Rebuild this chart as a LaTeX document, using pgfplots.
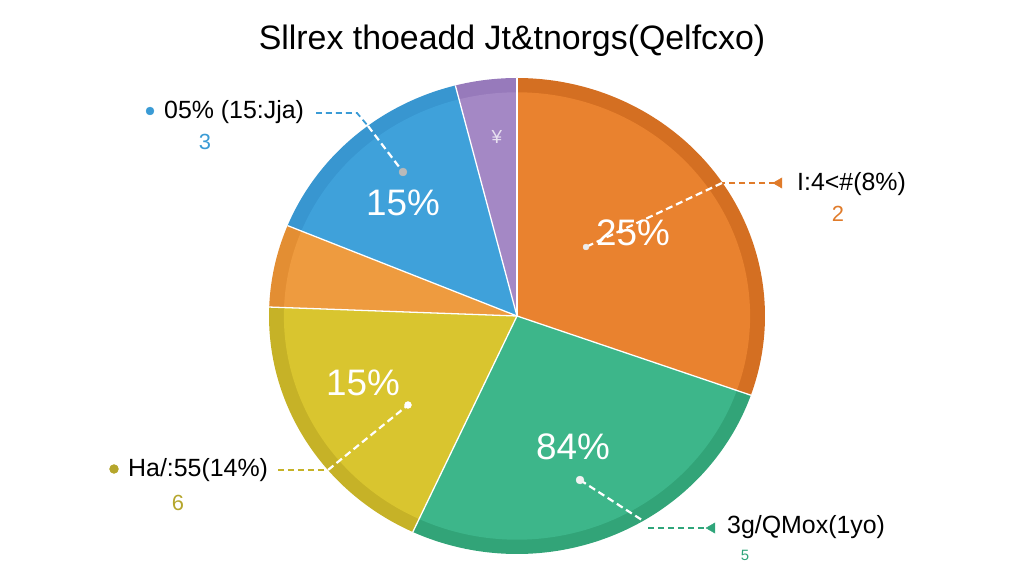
\documentclass[border=0pt]{standalone}
\usepackage{pgfplots}
\pgfplotsset{compat=1.18}
\usepackage{pgfplotstable}
\usepackage{fontspec}
\setmainfont{Liberation Sans}
\definecolor{cOr}{HTML}{E9822F}
\definecolor{cOrD}{HTML}{D46F22}
\definecolor{cGr}{HTML}{3DB68A}
\definecolor{cGrD}{HTML}{32A478}
\definecolor{cYe}{HTML}{D9C52F}
\definecolor{cYeD}{HTML}{C6B227}
\definecolor{cLo}{HTML}{EE9B3F}
\definecolor{cLoD}{HTML}{E38E33}
\definecolor{cBl}{HTML}{3FA1DA}
\definecolor{cBlD}{HTML}{3896D0}
\definecolor{cPu}{HTML}{A488C5}
\definecolor{cPuD}{HTML}{977ABB}
\definecolor{tBl}{HTML}{3A9BD5}
\definecolor{tOr}{HTML}{E07B2A}
\definecolor{tYe}{HTML}{B5A62C}
\definecolor{tGr}{HTML}{2FA57A}

% slice shares in percent, clockwise from 12 o'clock
\pgfplotstableread{
slice value
1 30.4
2 26.5
3 18.7
4 5.6
5 14.8
6 4.0
}\pietable

\def\cx{517}\def\cy{260}\def\rx{248}\def\ry{238}
\pgfplotstablegetelem{0}{value}\of\pietable\let\vA\pgfplotsretval
\pgfplotstablegetelem{1}{value}\of\pietable\let\vB\pgfplotsretval
\pgfplotstablegetelem{2}{value}\of\pietable\let\vC\pgfplotsretval
\pgfplotstablegetelem{3}{value}\of\pietable\let\vD\pgfplotsretval
\pgfplotstablegetelem{4}{value}\of\pietable\let\vE\pgfplotsretval
\pgfplotstablegetelem{5}{value}\of\pietable\let\vF\pgfplotsretval
\pgfmathsetmacro\aA{90}
\pgfmathsetmacro\aB{\aA-3.6*\vA}
\pgfmathsetmacro\aC{\aB-3.6*\vB}
\pgfmathsetmacro\aD{\aC-3.6*\vC}
\pgfmathsetmacro\aE{\aD-3.6*\vD}
\pgfmathsetmacro\aF{\aE-3.6*\vE}
\pgfmathsetmacro\aG{\aF-3.6*\vF}

\newcommand\pieslice[4]{%
  \addplot[fill=#1, draw=none, domain=#2:#3, samples=90, variable=\t]
    ({\cx+#4*\rx*cos(\t)},{\cy+#4*\ry*sin(\t)}) -- (axis cs:\cx,\cy) -- cycle;}
\newcommand\piesep[1]{%
  \draw[white, line width=1.3pt] (axis cs:\cx,\cy) -- (axis cs:{\cx+\rx*cos(#1)},{\cy+\ry*sin(#1)});}

\begin{document}
\begin{tikzpicture}
\begin{axis}[
  scale only axis, width=1024bp, height=576bp,
  xmin=0, xmax=1024, ymin=0, ymax=576,
  hide axis, clip=false]
% outer rim (darker) then inner body
\pieslice{cOrD}{\aB}{\aA}{1}
\pieslice{cGrD}{\aC}{\aB}{1}
\pieslice{cYeD}{\aD}{\aC}{1}
\pieslice{cLoD}{\aE}{\aD}{1}
\pieslice{cBlD}{\aF}{\aE}{1}
\pieslice{cPuD}{\aG}{\aF}{1}
\pieslice{cOr}{\aB}{\aA}{0.94}
\pieslice{cGr}{\aC}{\aB}{0.94}
\pieslice{cYe}{\aD}{\aC}{0.94}
\pieslice{cLo}{\aE}{\aD}{0.94}
\pieslice{cBl}{\aF}{\aE}{0.94}
\pieslice{cPu}{\aG}{\aF}{0.94}
\piesep{\aA}\piesep{\aB}\piesep{\aC}\piesep{\aD}\piesep{\aE}\piesep{\aF}

% leader lines
\addplot[tBl, line width=1.8pt, dash pattern=on 6pt off 4pt] coordinates {(316,463) (357,463) (368,450)};
\addplot[white, line width=2.2pt, dash pattern=on 7pt off 4pt] coordinates {(368,450) (403,404)};
\addplot[only marks, mark=*, mark size=4pt, color=gray!55] coordinates {(403,404)};
\addplot[only marks, mark=*, mark size=4pt, color=tBl] coordinates {(150,465)};

\addplot[tOr, line width=1.8pt, dash pattern=on 6pt off 4pt] coordinates {(775,393) (722,393)};
\addplot[white, line width=2.2pt, dash pattern=on 7pt off 4pt] coordinates {(722,393) (588,330)};
\addplot[only marks, mark=*, mark size=3pt, color=white!85!gray] coordinates {(586,329)};
\addplot[only marks, mark=triangle*, mark size=6pt, mark options={rotate=90}, color=tOr] coordinates {(779,393)};

\addplot[cYeD, line width=1.8pt, dash pattern=on 6pt off 4pt] coordinates {(278,106) (328,106)};
\addplot[white, line width=2.2pt, dash pattern=on 7pt off 4pt] coordinates {(328,106) (408,171)};
\addplot[only marks, mark=*, mark size=3.5pt, color=white] coordinates {(408,171)};
\addplot[only marks, mark=*, mark size=4.5pt, color=tYe] coordinates {(114,107)};

\addplot[white, line width=2.2pt, dash pattern=on 7pt off 4pt] coordinates {(580,96) (645,54)};
\addplot[tGr, line width=1.8pt, dash pattern=on 6pt off 4pt] coordinates {(648,48) (706,48)};
\addplot[only marks, mark=*, mark size=4pt, color=white!90!gray] coordinates {(580,96)};
\addplot[only marks, mark=triangle*, mark size=6pt, mark options={rotate=90}, color=tGr] coordinates {(712,48)};

% in-slice labels
\node[text=white, font=\fontsize{37}{40}\selectfont] at (axis cs:633,343) {25\%};
\node[text=white, font=\fontsize{37}{40}\selectfont] at (axis cs:403,373) {15\%};
\node[text=white, font=\fontsize{37}{40}\selectfont] at (axis cs:363,193) {15\%};
\node[text=white, font=\fontsize{37}{40}\selectfont] at (axis cs:573,129) {84\%};
\node[text=white!75!cPu, font=\fontsize{19}{20}\selectfont] at (axis cs:497,439) {¥};

% outside labels
\node[anchor=west, inner sep=0pt, font=\fontsize{25}{27}\selectfont] at (axis cs:164,464) {05\% (15:Jja)};
\node[text=tBl, font=\fontsize{22}{24}\selectfont] at (axis cs:205,434) {3};
\node[anchor=west, inner sep=0pt, font=\fontsize{25}{27}\selectfont] at (axis cs:797,392) {I:4<\#(8\%)};
\node[text=tOr, font=\fontsize{22}{24}\selectfont] at (axis cs:838,362) {2};
\node[anchor=west, inner sep=0pt, font=\fontsize{25}{27}\selectfont] at (axis cs:128,106) {Ha/:55(14\%)};
\node[text=tYe, font=\fontsize{22}{24}\selectfont] at (axis cs:178,73) {6};
\node[anchor=west, inner sep=0pt, font=\fontsize{25}{27}\selectfont] at (axis cs:727,49) {3g/QMox(1yo)};
\node[text=tGr, font=\fontsize{15}{16}\selectfont] at (axis cs:745,21) {5};

% title
\node[font=\fontsize{34}{38}\selectfont] at (axis cs:512,535) {Sllrex thoeadd Jt\&tnorgs(Qelfcxo)};
\end{axis}
\pgfresetboundingbox
\useasboundingbox (current axis.south west) rectangle (current axis.north east);
\end{tikzpicture}
\end{document}
